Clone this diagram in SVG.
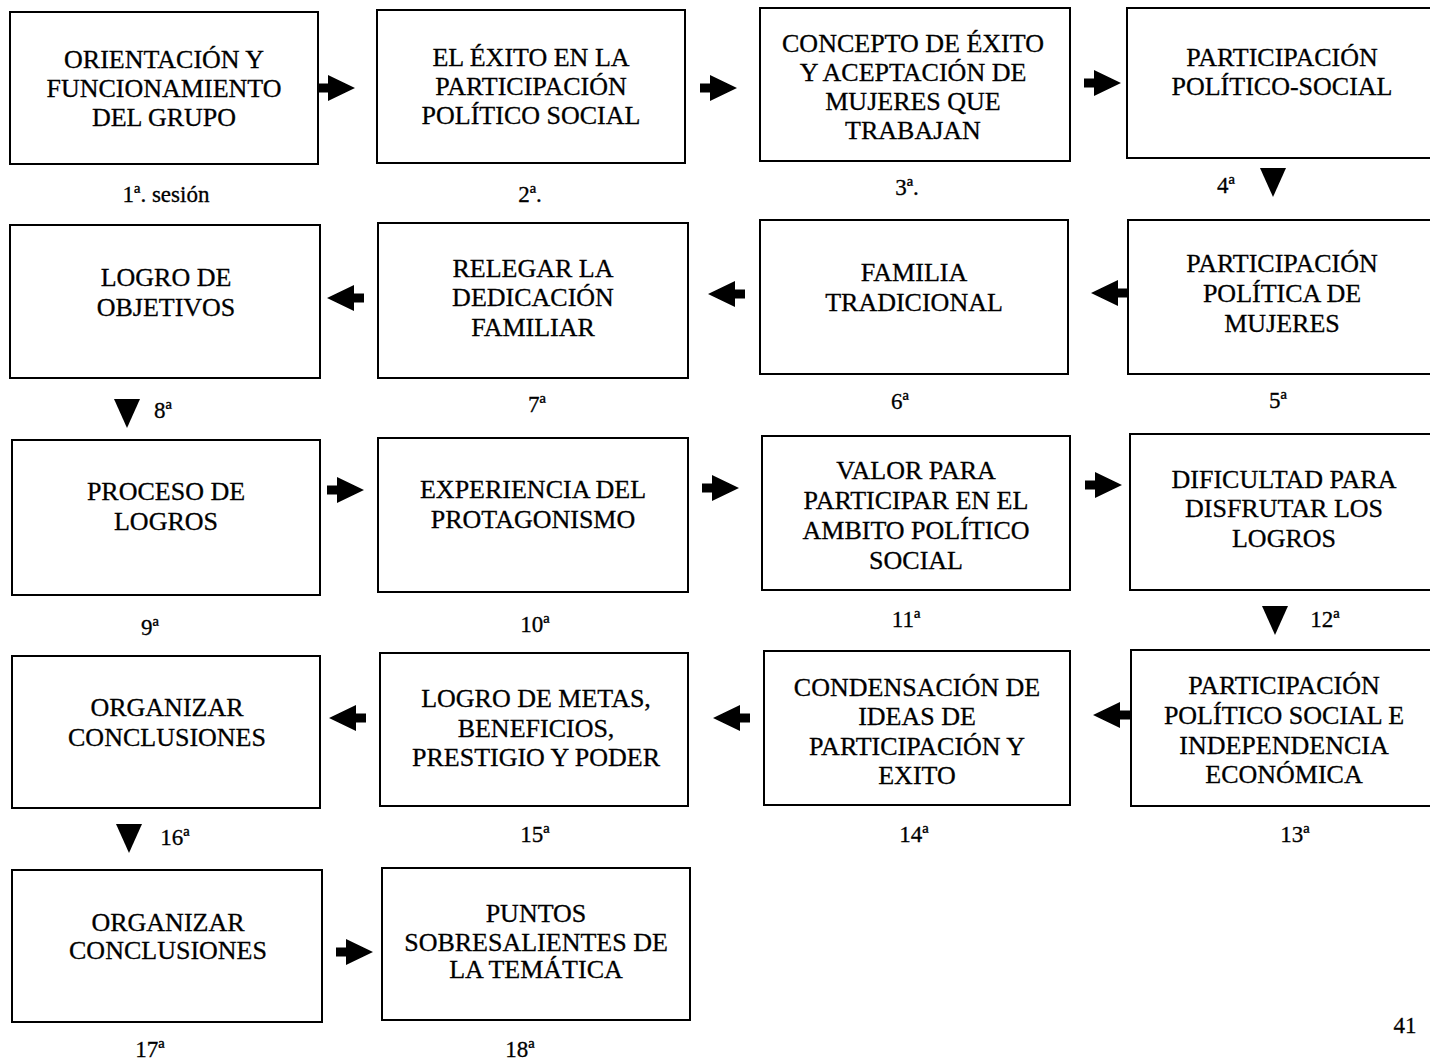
<svg xmlns="http://www.w3.org/2000/svg" width="1430" height="1061" viewBox="0 0 1430 1061">
<style>
.box{fill:#fff;stroke:#000;stroke-width:2}
.t{font-family:"Liberation Serif","Times New Roman",serif;font-size:26px;text-anchor:middle;fill:#000;stroke:#000;stroke-width:0.3}
.l{font-family:"Liberation Serif","Times New Roman",serif;font-size:23px;text-anchor:middle;fill:#000;stroke:#000;stroke-width:0.3}
.a{fill:#000}
</style>
<defs>
<path id="ar" d="M0,-4.5 L10,-4.5 L10,-13 L37,0 L10,13 L10,4.5 L0,4.5 Z"/>
<path id="dn" d="M0,0 L26,0 L13,29 Z"/>
</defs>
<rect width="1430" height="1061" fill="#fff"/>

<g id="connectors" class="a">
<use href="#ar" transform="translate(318,88)"/>
<use href="#ar" transform="translate(700,88)"/>
<use href="#ar" transform="translate(1084,83)"/>
<use href="#dn" transform="translate(1260,168)"/>
<use href="#ar" transform="translate(1128,293) scale(-1,1)"/>
<use href="#ar" transform="translate(745,294) scale(-1,1)"/>
<use href="#ar" transform="translate(364,298) scale(-1,1)"/>
<use href="#dn" transform="translate(114,399)"/>
<use href="#ar" transform="translate(327,490)"/>
<use href="#ar" transform="translate(702,488)"/>
<use href="#ar" transform="translate(1085,485)"/>
<use href="#dn" transform="translate(1262,606)"/>
<use href="#ar" transform="translate(1130,715) scale(-1,1)"/>
<use href="#ar" transform="translate(750,718) scale(-1,1)"/>
<use href="#ar" transform="translate(366,718) scale(-1,1)"/>
<use href="#dn" transform="translate(116,824)"/>
<use href="#ar" transform="translate(336,952)"/>
</g>

<g id="n1"><rect class="box" x="10" y="12" width="308" height="152"/>
<text class="t" x="164" y="68">ORIENTACIÓN Y</text><text class="t" x="164" y="97">FUNCIONAMIENTO</text><text class="t" x="164" y="126">DEL GRUPO</text>
<text class="l" x="166" y="202">1ª. sesión</text></g>

<g id="n2"><rect class="box" x="377" y="10" width="308" height="153"/>
<text class="t" x="531" y="66">EL ÉXITO EN LA</text><text class="t" x="531" y="95">PARTICIPACIÓN</text><text class="t" x="531" y="124">POLÍTICO SOCIAL</text>
<text class="l" x="530" y="202">2ª.</text></g>

<g id="n3"><rect class="box" x="760" y="8" width="310" height="153"/>
<text class="t" x="913" y="52">CONCEPTO DE ÉXITO</text><text class="t" x="913" y="81">Y ACEPTACIÓN DE</text><text class="t" x="913" y="110">MUJERES QUE</text><text class="t" x="913" y="139">TRABAJAN</text>
<text class="l" x="907" y="195">3ª.</text></g>

<g id="n4"><rect class="box" x="1127" y="8" width="310" height="150"/>
<text class="t" x="1282" y="66">PARTICIPACIÓN</text><text class="t" x="1282" y="95">POLÍTICO-SOCIAL</text>
<text class="l" x="1226" y="193">4ª</text></g>

<g id="n5"><rect class="box" x="1128" y="220" width="310" height="154"/>
<text class="t" x="1282" y="272">PARTICIPACIÓN</text><text class="t" x="1282" y="302">POLÍTICA DE</text><text class="t" x="1282" y="332">MUJERES</text>
<text class="l" x="1278" y="408">5ª</text></g>

<g id="n6"><rect class="box" x="760" y="220" width="308" height="154"/>
<text class="t" x="914" y="281">FAMILIA</text><text class="t" x="914" y="311">TRADICIONAL</text>
<text class="l" x="900" y="409">6ª</text></g>

<g id="n7"><rect class="box" x="378" y="223" width="310" height="155"/>
<text class="t" x="533" y="277">RELEGAR LA</text><text class="t" x="533" y="306">DEDICACIÓN</text><text class="t" x="533" y="336">FAMILIAR</text>
<text class="l" x="537" y="412">7ª</text></g>

<g id="n8"><rect class="box" x="10" y="225" width="310" height="153"/>
<text class="t" x="166" y="286">LOGRO DE</text><text class="t" x="166" y="316">OBJETIVOS</text>
<text class="l" x="163" y="418">8ª</text></g>

<g id="n9"><rect class="box" x="12" y="440" width="308" height="155"/>
<text class="t" x="166" y="500">PROCESO DE</text><text class="t" x="166" y="530">LOGROS</text>
<text class="l" x="150" y="635">9ª</text></g>

<g id="n10"><rect class="box" x="378" y="438" width="310" height="154"/>
<text class="t" x="533" y="498">EXPERIENCIA DEL</text><text class="t" x="533" y="528">PROTAGONISMO</text>
<text class="l" x="535" y="632">10ª</text></g>

<g id="n11"><rect class="box" x="762" y="436" width="308" height="154"/>
<text class="t" x="916" y="479">VALOR PARA</text><text class="t" x="916" y="509">PARTICIPAR EN EL</text><text class="t" x="916" y="539">AMBITO POLÍTICO</text><text class="t" x="916" y="569">SOCIAL</text>
<text class="l" x="906" y="627">11ª</text></g>

<g id="n12"><rect class="box" x="1130" y="434" width="310" height="156"/>
<text class="t" x="1284" y="488">DIFICULTAD PARA</text><text class="t" x="1284" y="517">DISFRUTAR LOS</text><text class="t" x="1284" y="547">LOGROS</text>
<text class="l" x="1325" y="627">12ª</text></g>

<g id="n13"><rect class="box" x="1131" y="650" width="310" height="156"/>
<text class="t" x="1284" y="694">PARTICIPACIÓN</text><text class="t" x="1284" y="724">POLÍTICO SOCIAL E</text><text class="t" x="1284" y="754">INDEPENDENCIA</text><text class="t" x="1284" y="783">ECONÓMICA</text>
<text class="l" x="1295" y="842">13ª</text></g>

<g id="n14"><rect class="box" x="764" y="651" width="306" height="154"/>
<text class="t" x="917" y="696">CONDENSACIÓN DE</text><text class="t" x="917" y="725">IDEAS DE</text><text class="t" x="917" y="755">PARTICIPACIÓN Y</text><text class="t" x="917" y="784">EXITO</text>
<text class="l" x="914" y="842">14ª</text></g>

<g id="n15"><rect class="box" x="380" y="653" width="308" height="153"/>
<text class="t" x="536" y="707">LOGRO DE  METAS,</text><text class="t" x="536" y="737">BENEFICIOS,</text><text class="t" x="536" y="766">PRESTIGIO Y PODER</text>
<text class="l" x="535" y="842">15ª</text></g>

<g id="n16"><rect class="box" x="12" y="656" width="308" height="152"/>
<text class="t" x="167" y="716">ORGANIZAR</text><text class="t" x="167" y="746">CONCLUSIONES</text>
<text class="l" x="175" y="845">16ª</text></g>

<g id="n17"><rect class="box" x="12" y="870" width="310" height="152"/>
<text class="t" x="168" y="931">ORGANIZAR</text><text class="t" x="168" y="959">CONCLUSIONES</text>
<text class="l" x="150" y="1057">17ª</text></g>

<g id="n18"><rect class="box" x="382" y="868" width="308" height="152"/>
<text class="t" x="536" y="922">PUNTOS</text><text class="t" x="536" y="951">SOBRESALIENTES DE</text><text class="t" x="536" y="978">LA TEMÁTICA</text>
<text class="l" x="520" y="1057">18ª</text></g>

<text class="l" x="1405" y="1033">41</text>
</svg>
